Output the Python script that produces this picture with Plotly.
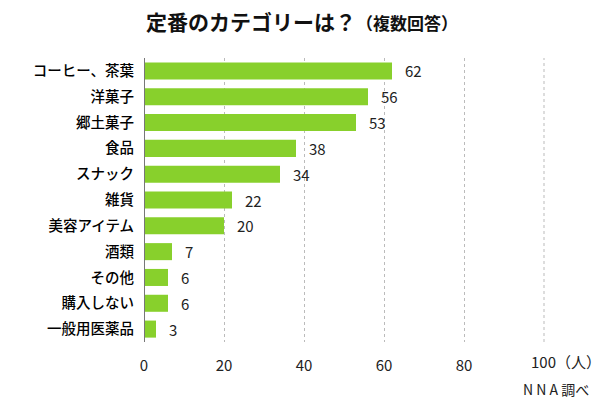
import plotly.graph_objects as go

categories = ["コーヒー、茶葉", "洋菓子", "郷土菓子", "食品", "スナック", "雑貨",
              "美容アイテム", "酒類", "その他", "購入しない", "一般用医薬品"]
values = [62, 56, 53, 38, 34, 22, 20, 7, 6, 6, 3]
tick_vals = [0, 20, 40, 60, 80, 100]
tick_text = ["0", "20", "40", "60", "80", "100"]
unit_label = "（人）"

FONT = "Noto Sans CJK JP"
BAR = "#88d02c"

fig = go.Figure()
fig.add_trace(go.Bar(
    x=values, y=categories, orientation="h",
    marker=dict(color=BAR, line=dict(width=0)),
    width=0.66, hoverinfo="skip",
))

annotations = []
for c, v in zip(categories, values):
    annotations.append(dict(
        x=v, y=c, xref="x", yref="y", text=str(v), showarrow=False,
        xanchor="left", xshift=11, font=dict(family=FONT, size=15, color="#222")))
# last tick label drawn together with its unit
annotations.append(dict(
    x=tick_vals[-1], y=0, xref="x", yref="paper", text=tick_text[-1] + unit_label,
    showarrow=False, xanchor="left", yanchor="top", xshift=-15, yshift=-7,
    font=dict(family=FONT, size=15, color="#222")))
annotations.append(dict(
    x=1, y=0, xref="paper", yref="paper", text="N N A 調べ", showarrow=False,
    xanchor="right", yanchor="top", xshift=46, yshift=-35,
    font=dict(family=FONT, size=14, color="#222")))
annotations.append(dict(
    x=0.5, y=1, xref="paper", yref="paper",
    text="<b>定番のカテゴリーは？</b><span style='font-size:17px'><b>（複数回答）</b></span>",
    showarrow=False, xanchor="center", yanchor="bottom", yshift=20, xshift=-43,
    font=dict(family=FONT, size=21, color="#111")))

fig.update_layout(
    width=600, height=399,
    margin=dict(l=144, r=55, t=58, b=57, autoexpand=False),
    plot_bgcolor="white", paper_bgcolor="white",
    showlegend=False,
    annotations=annotations,
    xaxis=dict(
        range=[0, 100.25], tickvals=tick_vals, ticktext=tick_text[:-1] + [""],
        showgrid=True, gridcolor="#bbbbbb", griddash="3px,3px", gridwidth=1,
        zeroline=False, showline=False, ticks="", automargin=False,
        tickfont=dict(family=FONT, size=15, color="#222"),
        ticklabelstandoff=13, fixedrange=True,
    ),
    yaxis=dict(
        autorange="reversed", showgrid=False, ticks="", automargin=False,
        showline=False, zeroline=False,
        tickfont=dict(family=FONT, size=14.5, color="#000", weight=500),
        ticklabelstandoff=9, fixedrange=True,
    ),
    shapes=[
        dict(type="line", xref="x", yref="paper", x0=tick_vals[-1], x1=tick_vals[-1],
             y0=0, y1=1, line=dict(color="#bbbbbb", width=1, dash="3px,3px")),
        dict(type="line", xref="x", yref="paper", x0=0, x1=0, y0=0, y1=1,
             line=dict(color="#777777", width=2)),
    ],
)

fig.write_html("out.html", config={"displayModeBar": False},
               post_script="document.body.style.margin='0';document.body.style.overflow='hidden';")
